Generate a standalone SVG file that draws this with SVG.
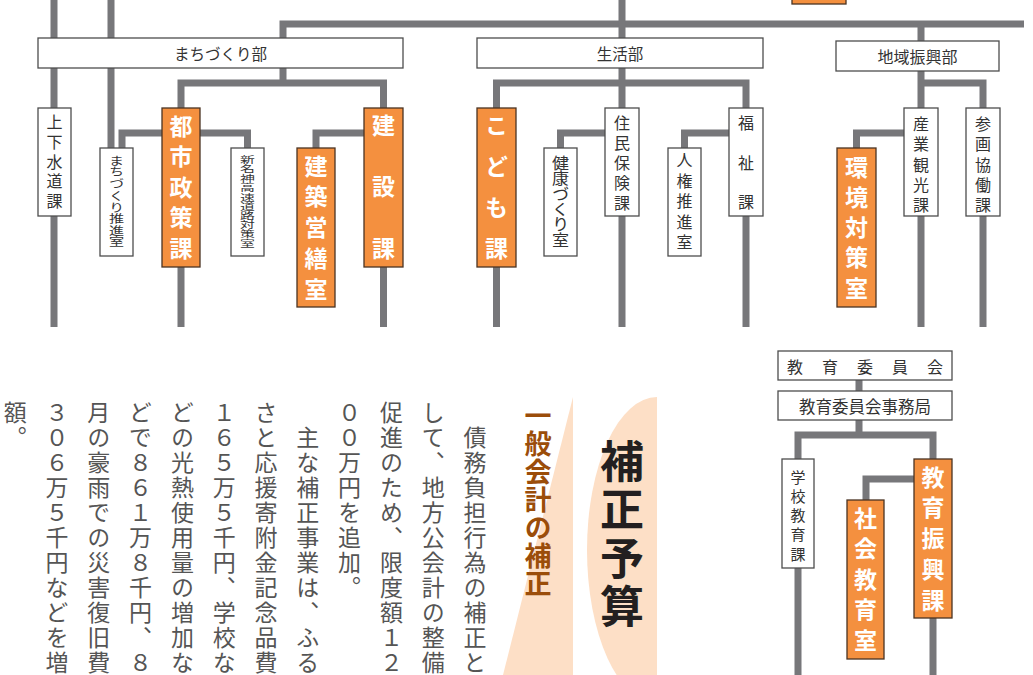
<svg xmlns="http://www.w3.org/2000/svg" width="1033" height="675" viewBox="0 0 1033 675">
<style>
.ln{fill:none;stroke:#77777a;stroke-width:7;stroke-linejoin:miter}
.wb{fill:#fff;stroke:#4d4d4d;stroke-width:1.3}
.ob{fill:#f4903f;stroke:#4a3323;stroke-width:1.3}
text{font-family:"Noto Sans CJK JP","Noto Sans CJK SC",sans-serif}
.wt{font-size:16px;fill:#333;text-anchor:middle;dominant-baseline:central}
.hd{font-size:15.5px;fill:#333;text-anchor:middle;dominant-baseline:central}
.vw{font-size:16px;fill:#333;writing-mode:vertical-rl}
.vo{font-size:23px;font-weight:bold;fill:#fff;writing-mode:vertical-rl}
.body{font-size:23px;fill:#555;writing-mode:vertical-rl;letter-spacing:2px}
</style>
<rect width="1033" height="675" fill="#fff"/>
<rect x="792" y="-5" width="54" height="9" class="ob"/>
<g id="backdrop">
<path d="M657 397 A70 153 0 0 0 657 703 Z" fill="#fddfc6"/>
<polygon points="573,397 573,675 503,675" fill="#fddfc6"/>
</g>
<g id="connectors">
<path class="ln" d="M54 0V38M54 68V108M54 216V327"/>
<path class="ln" d="M111 0V38M111 68V148"/>
<path class="ln" d="M283 38V24H1024"/>
<path class="ln" d="M622 0V38M921 24V41"/>
<path class="ln" d="M283 68V83M181 108V83H383.5V108"/>
<path class="ln" d="M122 148V133H247.5V148"/>
<path class="ln" d="M316 148V133H364"/>
<path class="ln" d="M181 267V327M383.5 267V327"/>
<path class="ln" d="M622 68V108M496.5 108V83H746V108"/>
<path class="ln" d="M560.5 148V133H606M684.5 148V133H730"/>
<path class="ln" d="M496.5 267V327M622 216V327M746 216V327"/>
<path class="ln" d="M921 71V108M921 83H983V108"/>
<path class="ln" d="M856.5 148V133H904"/>
<path class="ln" d="M921 216V327M983 216V327"/>
<path class="ln" d="M859 380V391M859 420V435M798 459V435H933V459"/>
<path class="ln" d="M866 500V479H914"/>
<path class="ln" d="M798 568V675M933 618V675"/>
</g>
<g id="machizukuri-bu"><rect class="wb" x="38" y="38" width="365" height="30"/><text class="hd" x="220.5" y="53">まちづくり部</text></g>
<g id="seikatsu-bu"><rect class="wb" x="477" y="38" width="286" height="30"/><text class="hd" x="620" y="53">生活部</text></g>
<g id="chiiki-shinko-bu"><rect class="wb" x="836" y="41" width="163" height="30"/><text class="hd" x="917.5" y="56" style="font-size:16px">地域振興部</text></g>
<g id="jogesuido"><rect class="wb" x="38" y="108" width="33" height="108"/><text class="vw"><tspan x="54.5" y="114">上</tspan><tspan x="54.5" y="134">下</tspan><tspan x="54.5" y="154">水</tspan><tspan x="54.5" y="173">道</tspan><tspan x="54.5" y="193">課</tspan></text></g>
<g id="machizukuri-suishin"><rect class="wb" x="100" y="148" width="33" height="108"/><g transform="translate(116.5 0) scale(1.3 1)"><text class="vw" style="font-size:11.6px"><tspan x="0" y="155">ま</tspan><tspan x="0" y="166.6">ち</tspan><tspan x="0" y="178.2">づ</tspan><tspan x="0" y="189.8">く</tspan><tspan x="0" y="201.4">り</tspan><tspan x="0" y="213">推</tspan><tspan x="0" y="224.6">進</tspan><tspan x="0" y="236.2">室</tspan></text></g></g>
<g id="toshiseisaku"><rect class="ob" x="162" y="108" width="38" height="159"/><text class="vo"><tspan x="181" y="114.5">都</tspan><tspan x="181" y="145">市</tspan><tspan x="181" y="175.5">政</tspan><tspan x="181" y="206">策</tspan><tspan x="181" y="236.5">課</tspan></text></g>
<g id="shinmeishin"><rect class="wb" x="231" y="148" width="33" height="108"/><g transform="translate(247.5 0) scale(1.6 1)"><text class="vw" style="font-size:9.3px"><tspan x="0" y="155">新</tspan><tspan x="0" y="164.3">名</tspan><tspan x="0" y="173.6">神</tspan><tspan x="0" y="182.9">高</tspan><tspan x="0" y="192.2">速</tspan><tspan x="0" y="201.5">道</tspan><tspan x="0" y="210.8">路</tspan><tspan x="0" y="220.1">対</tspan><tspan x="0" y="229.4">策</tspan><tspan x="0" y="238.7">室</tspan></text></g></g>
<g id="kenchikueizen"><rect class="ob" x="297" y="148" width="38" height="159"/><text class="vo"><tspan x="316" y="154.5">建</tspan><tspan x="316" y="185.25">築</tspan><tspan x="316" y="216">営</tspan><tspan x="316" y="246.75">繕</tspan><tspan x="316" y="277.5">室</tspan></text></g>
<g id="kensetsu"><rect class="ob" x="364" y="108" width="39" height="159"/><text class="vo"><tspan x="383.5" y="113.5">建</tspan><tspan x="383.5" y="175">設</tspan><tspan x="383.5" y="236.5">課</tspan></text></g>
<g id="kodomo"><rect class="ob" x="477" y="108" width="39" height="159"/><text class="vo"><tspan x="496.5" y="113.5">こ</tspan><tspan x="496.5" y="154.5">ど</tspan><tspan x="496.5" y="195.5">も</tspan><tspan x="496.5" y="236.5">課</tspan></text></g>
<g id="kenkozukuri"><rect class="wb" x="544" y="148" width="33" height="108"/><g transform="translate(560.5 0) scale(1.1 1)"><text class="vw" style="font-size:15.5px"><tspan x="0" y="155">健</tspan><tspan x="0" y="170.5">康</tspan><tspan x="0" y="186">づ</tspan><tspan x="0" y="201.5">く</tspan><tspan x="0" y="217">り</tspan><tspan x="0" y="232.5">室</tspan></text></g></g>
<g id="jumin-hoken"><rect class="wb" x="605" y="108" width="34" height="108"/><text class="vw"><tspan x="622" y="115">住</tspan><tspan x="622" y="135">民</tspan><tspan x="622" y="155">保</tspan><tspan x="622" y="175">険</tspan><tspan x="622" y="195">課</tspan></text></g>
<g id="jinken"><rect class="wb" x="668" y="148" width="33" height="108"/><text class="vw"><tspan x="684.5" y="152">人</tspan><tspan x="684.5" y="172.5">権</tspan><tspan x="684.5" y="193">推</tspan><tspan x="684.5" y="213.5">進</tspan><tspan x="684.5" y="234">室</tspan></text></g>
<g id="fukushi"><rect class="wb" x="729" y="108" width="34" height="108"/><text class="vw"><tspan x="746" y="115">福</tspan><tspan x="746" y="154.5">祉</tspan><tspan x="746" y="194">課</tspan></text></g>
<g id="kankyo"><rect class="ob" x="837" y="148" width="39" height="159"/><text class="vo"><tspan x="856.5" y="155.5">環</tspan><tspan x="856.5" y="185.75">境</tspan><tspan x="856.5" y="216">対</tspan><tspan x="856.5" y="246.25">策</tspan><tspan x="856.5" y="276.5">室</tspan></text></g>
<g id="sangyo"><rect class="wb" x="904" y="108" width="34" height="108"/><text class="vw"><tspan x="921" y="116">産</tspan><tspan x="921" y="136.25">業</tspan><tspan x="921" y="156.5">観</tspan><tspan x="921" y="176.75">光</tspan><tspan x="921" y="197">課</tspan></text></g>
<g id="sankaku"><rect class="wb" x="966" y="108" width="34" height="108"/><text class="vw"><tspan x="983" y="116">参</tspan><tspan x="983" y="136.25">画</tspan><tspan x="983" y="156.5">協</tspan><tspan x="983" y="176.75">働</tspan><tspan x="983" y="197">課</tspan></text></g>
<g id="kyoiku-iinkai"><rect class="wb" x="778" y="351" width="174" height="29"/><text class="wt"><tspan x="795" y="365.5">教</tspan><tspan x="830" y="365.5">育</tspan><tspan x="865" y="365.5">委</tspan><tspan x="900" y="365.5">員</tspan><tspan x="935" y="365.5">会</tspan></text></g>
<g id="jimukyoku"><rect class="wb" x="778" y="391" width="174" height="29"/><text class="wt" x="865" y="405.5" style="font-size:16.5px">教育委員会事務局</text></g>
<g id="gakko"><rect class="wb" x="782" y="459" width="32" height="109"/><text class="vw" style="font-size:15px"><tspan x="798" y="469.5">学</tspan><tspan x="798" y="488.75">校</tspan><tspan x="798" y="508">教</tspan><tspan x="798" y="527.25">育</tspan><tspan x="798" y="546.5">課</tspan></text></g>
<g id="kyoiku-shinko"><rect class="ob" x="914" y="459" width="38" height="159"/><text class="vo"><tspan x="933" y="465.5">教</tspan><tspan x="933" y="496.25">育</tspan><tspan x="933" y="527">振</tspan><tspan x="933" y="557.75">興</tspan><tspan x="933" y="588.5">課</tspan></text></g>
<g id="shakai"><rect class="ob" x="847" y="500" width="37" height="159"/><text class="vo"><tspan x="865.5" y="506.5">社</tspan><tspan x="865.5" y="537">会</tspan><tspan x="865.5" y="567.5">教</tspan><tspan x="865.5" y="598">育</tspan><tspan x="865.5" y="628.5">室</tspan></text></g>
<g id="title">
<text style="font-size:44px;font-weight:bold;fill:#231f20;writing-mode:vertical-rl"><tspan x="622" y="439">補</tspan><tspan x="622" y="487.5">正</tspan><tspan x="622" y="536">予</tspan><tspan x="622" y="584.5">算</tspan></text>
<text style="font-size:27px;font-weight:bold;fill:#9b4d0a;writing-mode:vertical-rl"><tspan x="538" y="402">一</tspan><tspan x="538" y="430.1">般</tspan><tspan x="538" y="458.2">会</tspan><tspan x="538" y="486.3">計</tspan><tspan x="538" y="514.4">の</tspan><tspan x="538" y="542.5">補</tspan><tspan x="538" y="570.6">正</tspan></text>
</g>
<g id="body">
<text class="body" x="475" y="426">債務負担行為の補正と</text>
<text class="body" x="433.2" y="401">して、地方公会計の整備</text>
<text class="body" x="391.4" y="401">促進のため、限度額１２</text>
<text class="body" x="349.6" y="401">００万円を追加。</text>
<text class="body" x="307.8" y="426">主な補正事業は、ふる</text>
<text class="body" x="266" y="401">さと応援寄附金記念品費</text>
<text class="body" x="224.2" y="401">１６５万５千円、学校な</text>
<text class="body" x="182.4" y="401">どの光熱使用量の増加な</text>
<text class="body" x="140.6" y="401">どで８６１万８千円、８</text>
<text class="body" x="98.8" y="401">月の豪雨での災害復旧費</text>
<text class="body" x="57" y="401">３０６万５千円などを増</text>
<text class="body" x="15.2" y="401">額。</text>
</g>
</svg>
